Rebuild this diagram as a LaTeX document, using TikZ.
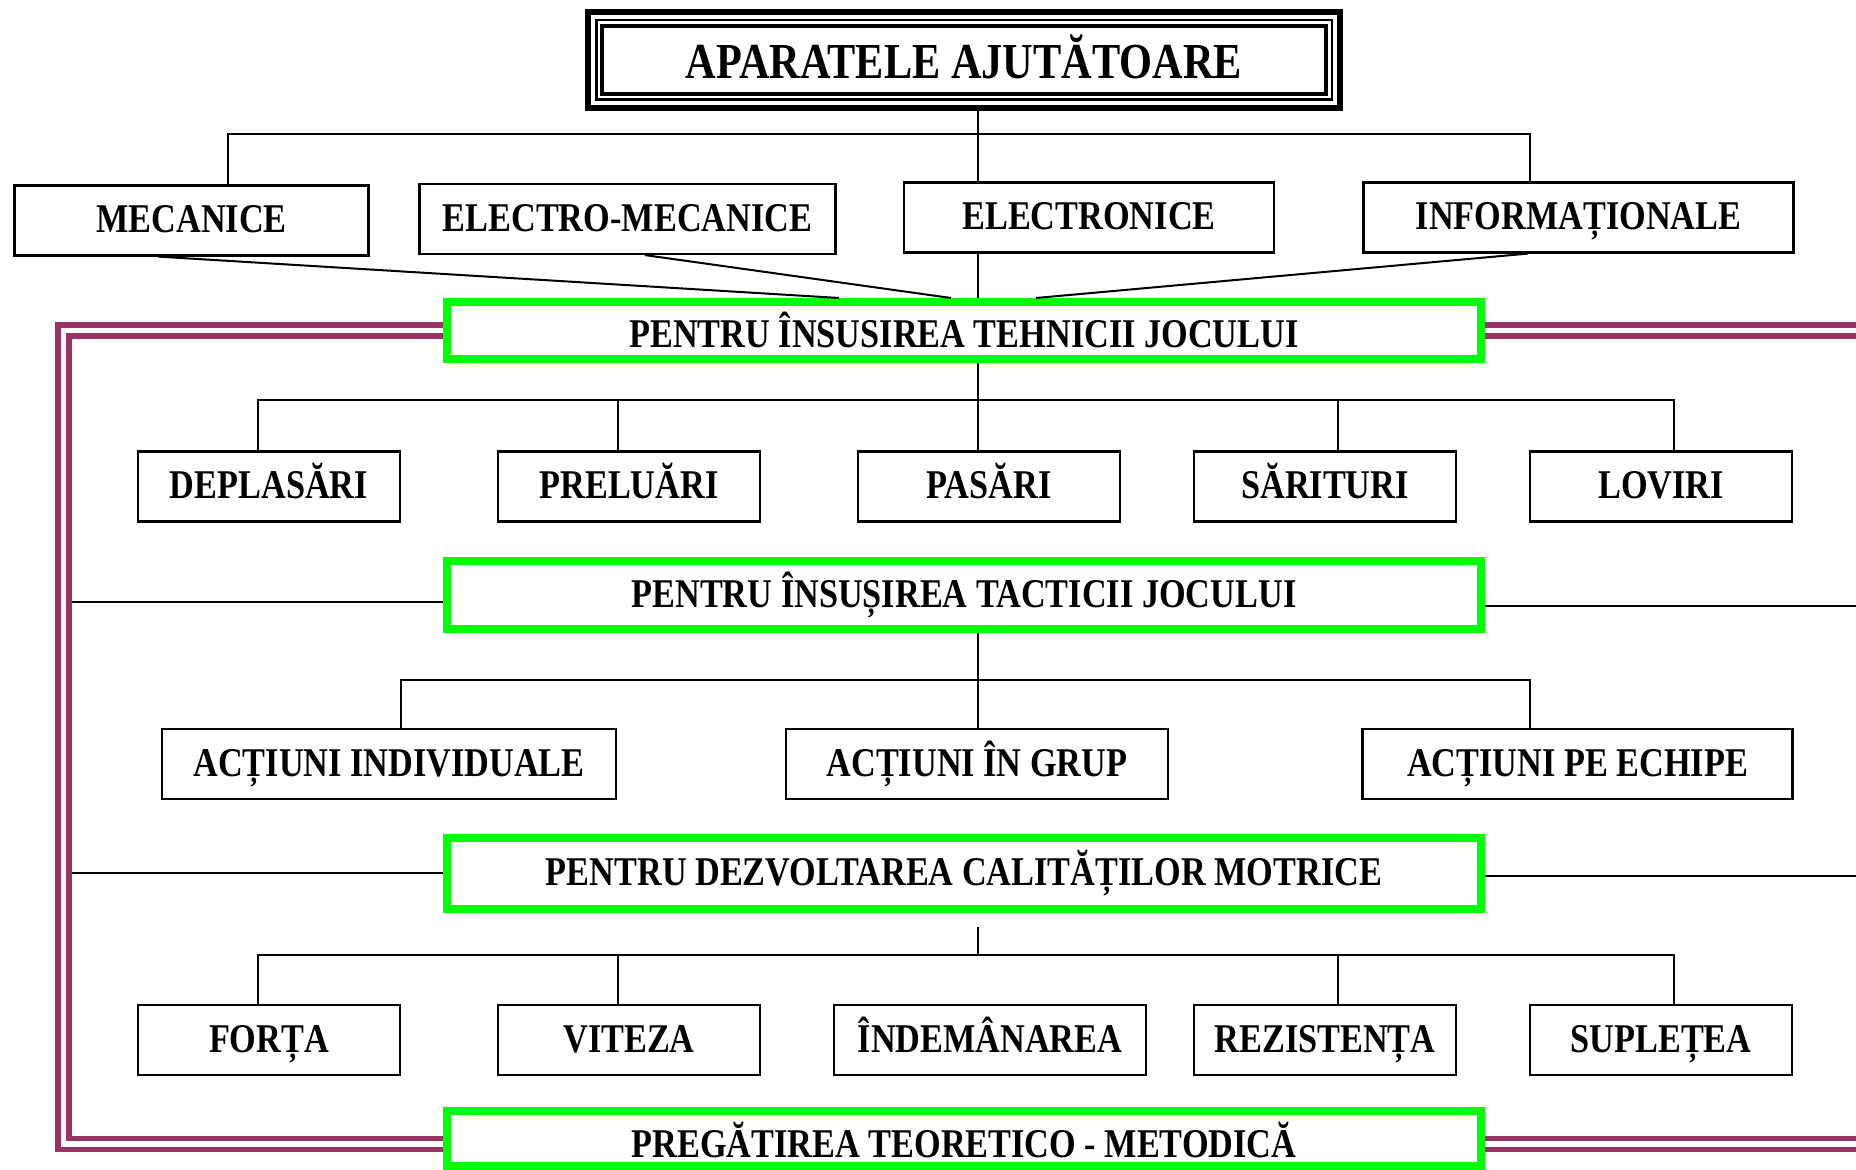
\documentclass[tikz,border=0pt]{standalone}
\usepackage{fontspec}
\setmainfont{Liberation Serif}[FakeStretch=0.84]

\definecolor{plum}{HTML}{993366}
\definecolor{aimgreen}{HTML}{00FF00}

\tikzset{
  every node/.style={font=\bfseries\fontsize{20.4}{24}\selectfont, inner sep=0pt,
                     text height=16.3pt, text depth=4.1pt}, % same baseline with or without accents
  kindbox/.style={draw, line width=1.1pt, minimum height=35pt}, % plain black boxes
  aimbox/.style={draw=aimgreen, line width=4pt, minimum width=517pt}, % the four green aims
  link/.style={line width=1pt}, % thin connectors
  rail/.style={draw=plum, line width=2.8pt, double=white, double distance=2.6pt}, % double frame line
}

\begin{document}
\begin{tikzpicture}[x=0.5pt, y=-0.5pt]
  \useasboundingbox (0,0) rectangle (1856,1170);

  % title with its triple border
  \node[draw, line width=3.2pt, minimum width=376pt, minimum height=48pt,
        text height=23.5pt, text depth=5pt,
        font=\bfseries\fontsize{25.2}{30}\selectfont] (title) at (964,60) {APARATELE AJUTĂTOARE};
  \draw[line width=1.1pt] ([shift={(5.8pt,-5.8pt)}]title.north west) rectangle ([shift={(-5.8pt,5.8pt)}]title.south east);
  \draw[line width=2pt] ([shift={(8.8pt,-8.8pt)}]title.north west) rectangle ([shift={(-8.8pt,8.8pt)}]title.south east);

  % kinds of devices
  \node[kindbox, minimum width=177pt] (mec) at (191.5,220.5) {MECANICE};
  \node[kindbox, minimum width=208pt] (elmec) at (627.5,219) {ELECTRO-MECANICE};
  \node[kindbox, minimum width=185pt] (elec) at (1089,217.5) {ELECTRONICE};
  \node[kindbox, minimum width=215pt] (info) at (1578.5,217.5) {INFORMAȚIONALE};

  % green aims
  \node[aimbox, minimum height=28.5pt, text height=21.4pt] (tech) at (964,330.5) {PENTRU ÎNSUSIREA TEHNICII JOCULUI};
  \node[aimbox, minimum height=34pt] (tact) at (964,595) {PENTRU ÎNSUȘIREA TACTICII JOCULUI};
  \node[aimbox, minimum height=35.5pt] (calit) at (964,873.5) {PENTRU DEZVOLTAREA CALITĂȚILOR MOTRICE};
  \node[aimbox, minimum height=27.5pt, text height=23.5pt] (teor) at (964,1138.5) {PREGĂTIREA TEORETICO - METODICĂ};

  % technique
  \foreach \name/\x/\txt in {depl/269/DEPLASĂRI, prel/629/PRELUĂRI, pas/989/PASĂRI, sar/1325/SĂRITURI, lov/1661/LOVIRI}
    \node[kindbox, minimum width=131pt] (\name) at (\x,486.5) {\txt};

  % tactics
  \node[kindbox, minimum width=227pt] (indiv) at (389,764) {ACȚIUNI INDIVIDUALE};
  \node[kindbox, minimum width=191pt] (grup) at (977,764) {ACȚIUNI ÎN GRUP};
  \node[kindbox, minimum width=215pt] (echipe) at (1577.5,764) {ACȚIUNI PE ECHIPE};

  % motor qualities
  \foreach \name/\x/\w/\txt in {forta/269/131/FORȚA, viteza/629/131/VITEZA, indem/990/156/ÎNDEMÂNAREA, rezist/1325/131/REZISTENȚA, suple/1661/131/SUPLEȚEA}
    \node[kindbox, minimum width=\w pt] (\name) at (\x,1040) {\txt};

  % spine and the horizontal bars
  \coordinate (spine) at (978,0);
  \coordinate (bar1) at (978,134);
  \coordinate (bar2) at (978,400);
  \coordinate (bar3) at (978,680);
  \coordinate (bar4) at (978,955);

  \draw[link] (title.south -| spine) -- (elec.north -| spine);
  \draw[link] ([xshift=18.25pt]mec.north) |- (bar1) -| ([xshift=-24.25pt]info.north);
  \draw[link] ([xshift=-16.75pt]mec.south) -- ([xshift=-62.5pt]tech.north);
  \draw[link] ([xshift=8.75pt]elmec.south) -- ([xshift=-6.5pt]tech.north);
  \draw[link] (elec.south -| spine) -- (tech.north -| spine);
  \draw[link] ([xshift=-25.25pt]info.south) -- ([xshift=36pt]tech.north);

  \draw[link] (tech.south -| spine) -- (pas.north -| spine);
  \draw[link] ([xshift=-5.5pt]depl.north) |- (bar2) -| ([xshift=6.5pt]lov.north);
  \foreach \name/\dx in {prel/-5.5, sar/6.5}
    \draw[link] ([xshift=\dx pt]\name.north) |- (bar2);

  \draw[link] (tact.south -| spine) -- (grup.north -| spine);
  \draw[link] ([xshift=6pt]indiv.north) |- (bar3) -| ([xshift=-23.75pt]echipe.north);

  \draw[link] (calit.south -| spine) ++(0,-7pt) -- (bar4);
  \draw[link] ([xshift=-5.5pt]forta.north) |- (bar4) -| ([xshift=6.5pt]suple.north);
  \foreach \name/\dx in {viteza/-5.5, rezist/6.5}
    \draw[link] ([xshift=\dx pt]\name.north) |- (bar4);

  % side links to the frame
  \coordinate (w2) at (69,602);
  \coordinate (w3) at (69,873);
  \coordinate (e2) at (1856,606);
  \coordinate (e3) at (1856,876);
  \draw[link] (w2) -- (w2 -| tact.west);
  \draw[link] (e2) -- (e2 -| tact.east);
  \draw[link] (w3) -- (w3 -| calit.west);
  \draw[link] (e3) -- (e3 -| calit.east);

  % double frame
  \coordinate (railL) at (63.5,700);
  \coordinate (railR) at (1870,0);
  \coordinate (t4) at ([yshift=-2.75pt]teor.west);
  \coordinate (u4) at ([yshift=-2.75pt]teor.east);
  \draw[rail] (tech.west) -| (railL) |- (t4);
  \draw[rail] (tech.east) -- (tech.east -| railR);
  \draw[rail] (u4) -- (u4 -| railR);
\end{tikzpicture}
\end{document}
